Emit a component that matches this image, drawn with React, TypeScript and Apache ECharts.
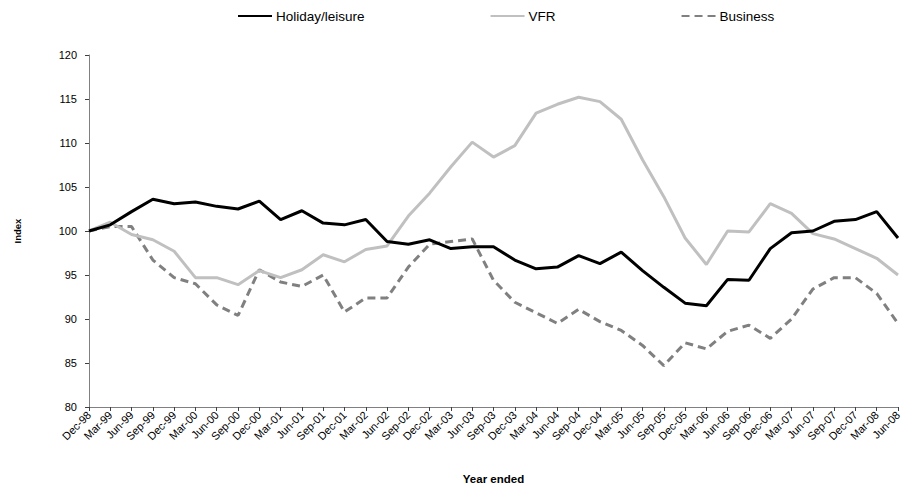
import React, { useEffect, useRef } from "react";
import * as echarts from "echarts";

const categories = [
  "Dec-98", "Mar-99", "Jun-99", "Sep-99", "Dec-99", "Mar-00", "Jun-00", "Sep-00", "Dec-00",
  "Mar-01", "Jun-01", "Sep-01", "Dec-01", "Mar-02", "Jun-02", "Sep-02", "Dec-02",
  "Mar-03", "Jun-03", "Sep-03", "Dec-03", "Mar-04", "Jun-04", "Sep-04", "Dec-04",
  "Mar-05", "Jun-05", "Sep-05", "Dec-05", "Mar-06", "Jun-06", "Sep-06", "Dec-06",
  "Mar-07", "Jun-07", "Sep-07", "Dec-07", "Mar-08", "Jun-08",
];

const holiday = [
  100, 100.7, 102.2, 103.6, 103.1, 103.3, 102.8, 102.5, 103.4,
  101.3, 102.3, 100.9, 100.7, 101.3, 98.8, 98.5, 99.0,
  98.0, 98.2, 98.2, 96.7, 95.7, 95.9, 97.2, 96.3,
  97.6, 95.5, 93.6, 91.8, 91.5, 94.5, 94.4, 98.0,
  99.8, 100.0, 101.1, 101.3, 102.2, 99.2,
];

const vfr = [
  100, 101.0, 99.6, 99.0, 97.7, 94.7, 94.7, 93.9, 95.5,
  94.7, 95.6, 97.3, 96.5, 97.9, 98.3, 101.7, 104.3,
  107.3, 110.1, 108.4, 109.7, 113.4, 114.4, 115.2, 114.7,
  112.7, 108.1, 103.9, 99.2, 96.2, 100.0, 99.9, 103.1,
  102.0, 99.7, 99.1, 98.0, 96.9, 95.0,
];

const business = [
  100, 100.5, 100.5, 96.7, 94.7, 94.0, 91.6, 90.4, 95.6,
  94.2, 93.7, 95.0, 90.8, 92.4, 92.4, 95.9, 98.5,
  98.8, 99.1, 94.4, 91.9, 90.7, 89.5, 91.1, 89.7,
  88.7, 87.0, 84.7, 87.3, 86.6, 88.6, 89.3, 87.8,
  90.0, 93.4, 94.7, 94.7, 92.9, 89.5,
];

const yMin = 80;
const yMax = 120;
const yStep = 5;

export default function App() {
  const ref = useRef<HTMLDivElement>(null);

  useEffect(() => {
    if (!ref.current) return;
    const chart = echarts.init(ref.current, null, { renderer: "svg" });
    const font = "'Liberation Sans', Arial, sans-serif";
    chart.setOption({
      animation: false,
      backgroundColor: "#ffffff",
      textStyle: { fontFamily: font, color: "#000" },
      legend: {
        top: 9,
        left: 237,
        padding: 0,
        itemWidth: 34,
        itemHeight: 14,
        itemGap: 125,
        itemStyle: { color: "transparent", borderColor: "transparent", borderWidth: 0, opacity: 0 },
        textStyle: { fontFamily: font, fontSize: 13.5, color: "#000", padding: [0, 0, 0, -1] },
        data: ["Holiday/leisure", "VFR", "Business"],
      },
      grid: { left: 89, right: 6, top: 55, bottom: 79, containLabel: false, outerBoundsMode: "none" },
      xAxis: {
        type: "category",
        data: categories,
        boundaryGap: false,
        name: "Year ended",
        nameLocation: "middle",
        nameGap: 66,
        nameTextStyle: { fontFamily: font, fontSize: 11.5, fontWeight: "bold", color: "#000" },
        axisLine: { lineStyle: { color: "#808080", width: 1 } },
        axisTick: { show: true, alignWithLabel: true, length: 4, lineStyle: { color: "#404040" } },
        axisLabel: {
          interval: 0,
          rotate: 45,
          fontFamily: font,
          fontSize: 11,
          color: "#000",
          margin: 6,
        },
        splitLine: { show: false },
      },
      yAxis: {
        type: "value",
        min: yMin,
        max: yMax,
        interval: yStep,
        name: "Index",
        nameLocation: "middle",
        nameRotate: 90,
        nameGap: 67,
        nameTextStyle: { fontFamily: font, fontSize: 9.5, fontWeight: "bold", color: "#000" },
        axisLine: { show: true, lineStyle: { color: "#808080", width: 1 } },
        axisTick: { show: true, length: 4, lineStyle: { color: "#404040" } },
        axisLabel: { fontFamily: font, fontSize: 11, color: "#000", margin: 12 },
        splitLine: { show: false },
      },
      series: [
        {
          name: "Holiday/leisure",
          type: "line",
          data: holiday,
          symbol: "none",
          lineStyle: { color: "#000000", width: 3 },
          itemStyle: { color: "#000000" },
          z: 3,
        },
        {
          name: "VFR",
          type: "line",
          data: vfr,
          symbol: "none",
          lineStyle: { color: "#c0c0c0", width: 3 },
          itemStyle: { color: "#c0c0c0" },
          z: 2,
        },
        {
          name: "Business",
          type: "line",
          data: business,
          symbol: "none",
          lineStyle: { color: "#808080", width: 3, type: [8, 5] },
          itemStyle: { color: "#808080" },
          z: 1,
        },
      ],
    });
    return () => chart.dispose();
  }, []);

  return (
    <div
      ref={ref}
      style={{ position: "fixed", left: 0, top: 0, width: 904, height: 486 }}
    />
  );
}
